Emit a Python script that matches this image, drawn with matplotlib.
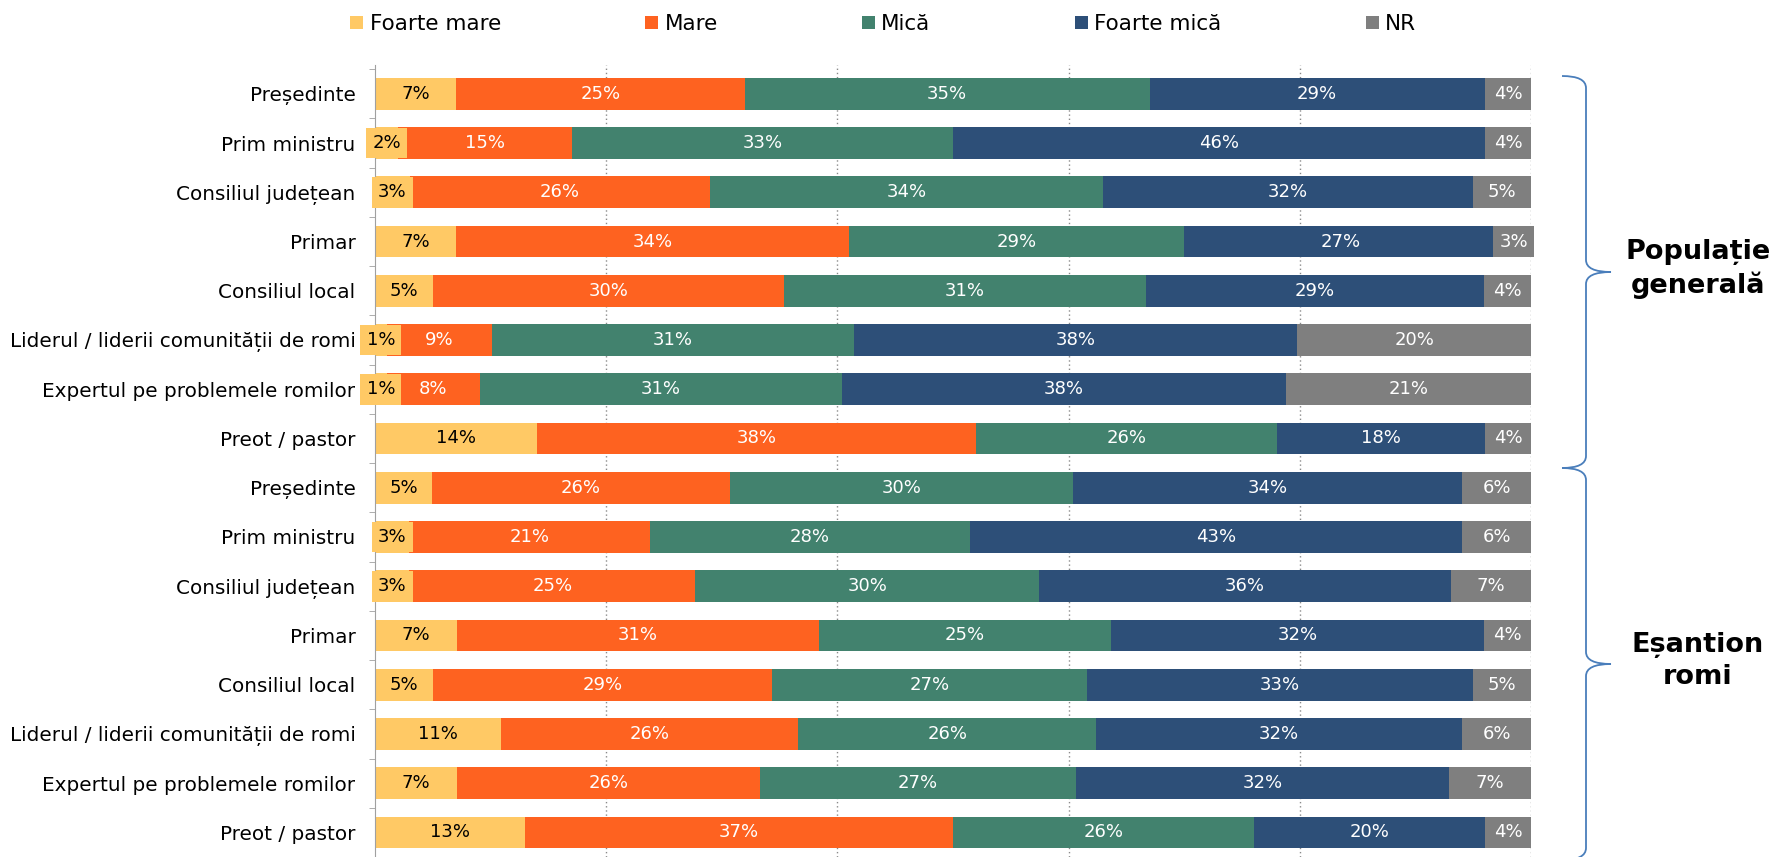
import numpy as np
import matplotlib.pyplot as plt
from matplotlib.patches import Patch, PathPatch
from matplotlib.path import Path

plt.rcParams['font.family'] = ['DejaVu Sans']

W, H = 1777, 857

# date: populatie generala (primele 8) si esantion romi (ultimele 8)
categorii = ["Președinte", "Prim ministru", "Consiliul județean", "Primar",
             "Consiliul local", "Liderul / liderii comunității de romi",
             "Expertul pe problemele romilor", "Preot / pastor"] * 2

foarte_mare = [7, 2, 3, 7, 5, 1, 1, 14, 5, 3, 3, 7, 5, 11, 7, 13]
mare = [25, 15, 26, 34, 30, 9, 8, 38, 26, 21, 25, 31, 29, 26, 26, 37]
mica = [35, 33, 34, 29, 31, 31, 31, 26, 30, 28, 30, 25, 27, 26, 27, 26]
foarte_mica = [29, 46, 32, 27, 29, 38, 38, 18, 34, 43, 36, 32, 33, 32, 32, 20]
nr = [4, 4, 5, 3, 4, 20, 21, 4, 6, 6, 7, 4, 5, 6, 7, 4]

serii = ["Foarte mare", "Mare", "Mică", "Foarte mică", "NR"]
grupuri = ["Populație\ngenerală", "Eșantion\nromi"]

culori = ["#FFC965", "#FE6220", "#42826E", "#2D4F78", "#7F7F7F"]
culori_text = ["black", "white", "white", "white", "white"]

valori = np.array([foarte_mare, mare, mica, foarte_mica, nr], dtype=float)
procente = valori / valori.sum(axis=0) * 100

fig = plt.figure(figsize=(W / 100, H / 100), dpi=100)
ax = fig.add_axes([375 / W, 0, (1531 - 375) / W, 1 - 65 / H])

y = np.arange(len(categorii))
stanga = np.zeros(len(categorii))
for i in range(len(serii)):
    ax.barh(y, procente[i], left=stanga, height=0.645, color=culori[i],
            edgecolor='none', zorder=2)
    for j in range(len(categorii)):
        ax.text(stanga[j] + procente[i][j] / 2, y[j], f"{int(valori[i][j])}%",
                ha='center', va='center', fontsize=13, color=culori_text[i],
                zorder=3,
                bbox=dict(boxstyle='square,pad=0.35', fc=culori[i], ec='none'))
    stanga += procente[i]

ax.set_xlim(0, 100)
ax.set_ylim(15.38, -0.585)
ax.set_xticks([20, 40, 60, 80, 100])
ax.tick_params(axis='x', length=0, labelbottom=False)
ax.xaxis.grid(True, linestyle=(0, (1, 2)), color='#8a8a8a', lw=1)
ax.set_axisbelow(True)

ax.set_yticks(y)
ax.set_yticklabels(categorii, fontsize=14.4)
ax.set_yticks(np.arange(-0.5, 16, 1), minor=True)
ax.tick_params(axis='y', which='major', length=0, pad=14)
ax.tick_params(axis='y', which='minor', length=4, color='#a0a0a0')

for s in ['top', 'right', 'bottom']:
    ax.spines[s].set_visible(False)
ax.spines['left'].set_color('#a0a0a0')

# legenda
handles = [Patch(facecolor=c, edgecolor='none') for c in culori]
fig.legend(handles, serii, loc='center', bbox_to_anchor=(0.497, 0.972),
           ncol=5, frameon=False, fontsize=15.5, handlelength=0.6,
           handleheight=0.6, handletextpad=0.3, columnspacing=6.7)


# acolade
def acolada(ytop, ybot, x0=1562, xv=1586, xt=1611, r=12):
    ym = (ytop + ybot) / 2
    pts = [(x0, ytop), (xv, ytop), (xv, ytop + r),
           (xv, ym - r), (xv, ym), (xt, ym),
           (xv, ym), (xv, ym + r),
           (xv, ybot - r), (xv, ybot), (x0, ybot)]
    codes = [Path.MOVETO, Path.CURVE3, Path.CURVE3,
             Path.LINETO, Path.CURVE3, Path.CURVE3,
             Path.CURVE3, Path.CURVE3,
             Path.LINETO, Path.CURVE3, Path.CURVE3]
    pts = [(px / W, 1 - py / H) for px, py in pts]
    fig.add_artist(PathPatch(Path(pts, codes), fc='none', ec='#4A7EBB',
                             lw=1.3, transform=fig.transFigure))
    return ym


for k, (yt, yb) in enumerate([(76, 468), (468, 860)]):
    ym = acolada(yt, yb)
    fig.text(1698 / W, 1 - (ym - 3) / H, grupuri[k], ha='center', va='center',
             fontsize=19.5, fontweight='bold', linespacing=1.3)

fig.savefig('out.png', dpi=100)
